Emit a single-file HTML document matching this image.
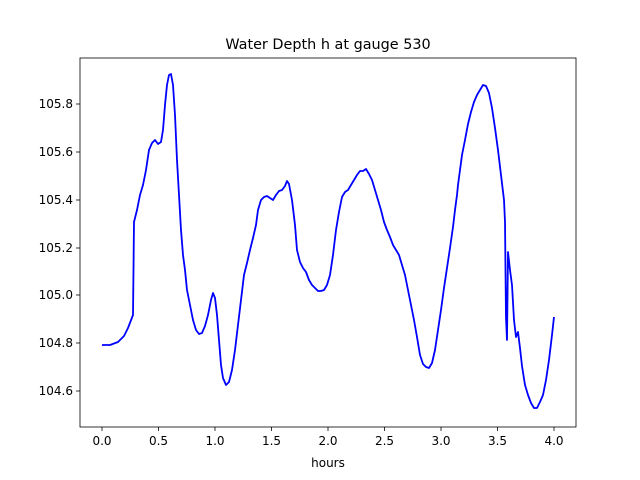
<!DOCTYPE html>
<html><head><style>body{margin:0;background:#fff}svg{display:block}</style></head>
<body>
<svg width="640" height="480" xmlns="http://www.w3.org/2000/svg" font-family="'DejaVu Sans', sans-serif">
<rect width="640" height="480" fill="#fff"/>
<text x="328" y="49" font-size="14.4" text-anchor="middle">Water Depth h at gauge 530</text>
<polyline fill="none" stroke="#0000ff" stroke-width="1.8" stroke-linejoin="round" points="102,345 110,345 118,342 124,336 128,328 133,315 134,222 137,210 140,195 143,185 146,170 149,150 152,143 155,140 158,144 161,142 163,130 165,105 167,85 169,75 171,74 173,85 175,115 177,160 179,195 181,230 183,255 185,270 187,290 190,305 193,320 196,330 199,334 202,333 205,326 208,315 211,300 213,293 215,298 217,315 219,340 221,365 223,378 226,385 229,382 232,370 235,350 238,325 241,300 244,275 247,263 250,250 253,238 256,225 258,210 261,200 264,197 267,196 270,198 273,200 276,195 279,191 282,190 285,186 287,181 289,184 292,200 295,225 297,250 300,262 303,268 306,272 309,280 312,285 315,288 318,291 321,291 324,290 327,285 330,275 333,255 336,230 339,212 342,197 345,192 348,190 351,185 354,180 357,175 360,171 363,171 366,169 369,174 372,180 375,190 378,200 381,210 384,222 387,230 390,237 393,245 396,250 399,255 402,265 405,275 408,290 411,305 414,320 417,337 420,355 423,364 426,367 429,368 432,363 435,350 438,330 441,310 444,288 447,268 450,248 453,227 455,210 457,195 458,185 460,170 462,155 465,140 468,124 471,112 474,102 477,95 480,90 483,85 486,86 489,93 492,108 495,128 498,150 501,175 504,200 505,222 506,318 507,340 508,252 510,270 512,285 514,320 516,337 518,332 520,348 522,366 525,385 528,395 531,403 534,408 537,408 540,402 543,395 546,380 549,360 552,335 554,317"/>
<rect x="80" y="58" width="496" height="369" fill="none" stroke="#000" stroke-width="0.8"/>
<g stroke="#000" stroke-width="0.8">
<line x1="102" y1="427" x2="102" y2="431"/><line x1="158.5" y1="427" x2="158.5" y2="431"/><line x1="215" y1="427" x2="215" y2="431"/><line x1="271.5" y1="427" x2="271.5" y2="431"/><line x1="328" y1="427" x2="328" y2="431"/><line x1="384.5" y1="427" x2="384.5" y2="431"/><line x1="441" y1="427" x2="441" y2="431"/><line x1="497.5" y1="427" x2="497.5" y2="431"/><line x1="554" y1="427" x2="554" y2="431"/>
<line x1="76" y1="391" x2="80" y2="391"/><line x1="76" y1="343" x2="80" y2="343"/><line x1="76" y1="295" x2="80" y2="295"/><line x1="76" y1="248" x2="80" y2="248"/><line x1="76" y1="200" x2="80" y2="200"/><line x1="76" y1="152" x2="80" y2="152"/><line x1="76" y1="104" x2="80" y2="104"/>
</g>
<g font-size="12" text-anchor="middle">
<text x="102" y="445">0.0</text><text x="158.5" y="445">0.5</text><text x="215" y="445">1.0</text><text x="271.5" y="445">1.5</text><text x="328" y="445">2.0</text><text x="384.5" y="445">2.5</text><text x="441" y="445">3.0</text><text x="497.5" y="445">3.5</text><text x="554" y="445">4.0</text>
<text x="328" y="467">hours</text>
</g>
<g font-size="12" text-anchor="end">
<text x="73" y="395">104.6</text><text x="73" y="347">104.8</text><text x="73" y="299">105.0</text><text x="73" y="252">105.2</text><text x="73" y="204">105.4</text><text x="73" y="156">105.6</text><text x="73" y="108">105.8</text>
</g>
</svg>
</body></html>
